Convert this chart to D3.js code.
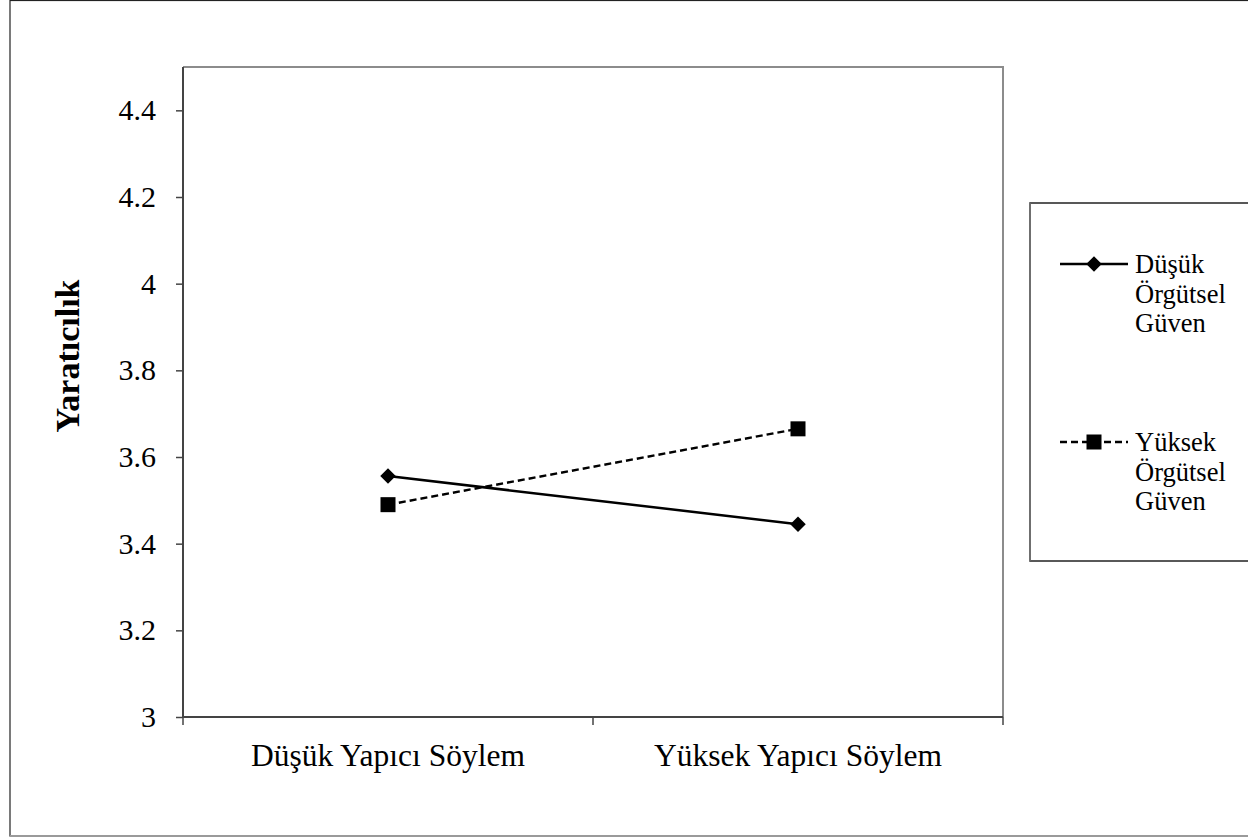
<!DOCTYPE html>
<html>
<head>
<meta charset="utf-8">
<script src="https://cdn.jsdelivr.net/npm/d3@7"></script>
<style>
  html, body { margin: 0; padding: 0; background: #fff; }
  svg { display: block; }
  text { font-family: "Liberation Serif", "Times New Roman", serif; fill: #000; }
</style>
</head>
<body>
<svg id="chart" width="1248" height="838"></svg>
<script>
const categories = ["Düşük Yapıcı Söylem", "Yüksek Yapıcı Söylem"];
const seriesNames = [["Düşük", "Örgütsel", "Güven"], ["Yüksek", "Örgütsel", "Güven"]];
const lowTrust = [3.556, 3.445];
const highTrust = [3.49, 3.665];
const yTicks = [3, 3.2, 3.4, 3.6, 3.8, 4, 4.2, 4.4];
const yLabel = "Yaratıcılık";

const svg = d3.select("#chart");
const plot = { left: 183, top: 67, right: 1003, bottom: 717 };

// outer chart border
svg.append("rect").attr("x", 10).attr("y", 0.5).attr("width", 1260).attr("height", 835.5)
  .attr("fill", "none").attr("stroke", "#222").attr("stroke-width", 1.2);
svg.append("line").attr("x1", 10).attr("x2", 1248).attr("y1", 836).attr("y2", 836)
  .attr("stroke", "#9a9a9a").attr("stroke-width", 2);

const x = d3.scaleBand().domain(categories).range([plot.left, plot.right]).padding(0);
const y = d3.scaleLinear().domain([3, 4.5]).range([plot.bottom, plot.top]);

// plot area top/right border (gray)
svg.append("path")
  .attr("d", `M${plot.left},${plot.top}H${plot.right}V${plot.bottom}`)
  .attr("fill", "none").attr("stroke", "#8c8c8c").attr("stroke-width", 2);

// y axis
const yAxis = svg.append("g").attr("transform", `translate(${plot.left},0)`)
  .call(d3.axisLeft(y).tickValues(yTicks).tickSize(7).tickPadding(20).tickFormat(d => String(d)));
yAxis.select(".domain").attr("stroke", "#444").attr("stroke-width", 2)
  .attr("d", `M0,${plot.bottom}V${plot.top}`);
yAxis.selectAll(".tick line").attr("stroke", "#444").attr("stroke-width", 1.5);
yAxis.selectAll(".tick text").attr("font-size", 30).attr("font-family", "Liberation Serif").attr("fill", "#000");

// x axis
const xAxis = svg.append("g").attr("transform", `translate(0,${plot.bottom})`)
  .call(d3.axisBottom(x).tickSize(0).tickPadding(27));
xAxis.select(".domain").attr("stroke", "#444").attr("stroke-width", 2)
  .attr("d", `M${plot.left},0H${plot.right}`);
xAxis.selectAll(".tick text").attr("font-size", 31.5).attr("font-family", "Liberation Serif").attr("fill", "#000");
// boundary tick marks
const bounds = [plot.left, x(categories[1]), plot.right];
xAxis.selectAll(".btick").data(bounds).enter().append("line")
  .attr("x1", d => d).attr("x2", d => d).attr("y1", 0).attr("y2", 8)
  .attr("stroke", "#444").attr("stroke-width", 1.5);

// y label
svg.append("text")
  .attr("transform", `translate(79,${(plot.top + plot.bottom) / 2 - 36}) rotate(-90)`)
  .attr("text-anchor", "middle")
  .attr("font-size", 34).attr("font-weight", "bold")
  .text(yLabel);

const cx = d => x(d) + x.bandwidth() / 2;
const line = d3.line().x(d => cx(d.c)).y(d => y(d.v));

const lowData = categories.map((c, i) => ({ c, v: lowTrust[i] }));
const highData = categories.map((c, i) => ({ c, v: highTrust[i] }));

svg.append("path").datum(lowData).attr("d", line)
  .attr("fill", "none").attr("stroke", "#000").attr("stroke-width", 2.5);
svg.append("path").datum(highData).attr("d", line)
  .attr("fill", "none").attr("stroke", "#000").attr("stroke-width", 2.5)
  .attr("stroke-dasharray", "7,4");

function drawDiamond(g, px, py) {
  g.append("rect").attr("x", px - 5.5).attr("y", py - 5.5).attr("width", 11).attr("height", 11)
    .attr("transform", `rotate(45,${px},${py})`).attr("fill", "#000");
}
function drawSquare(g, px, py) {
  g.append("rect").attr("x", px - 7.5).attr("y", py - 7.5).attr("width", 15).attr("height", 15)
    .attr("fill", "#000");
}
lowData.forEach(d => drawDiamond(svg, cx(d.c), y(d.v)));
highData.forEach(d => drawSquare(svg, cx(d.c), y(d.v)));

// legend
svg.append("rect").attr("x", 1030).attr("y", 203).attr("width", 240).attr("height", 358)
  .attr("fill", "#fff").attr("stroke", "#222").attr("stroke-width", 1.5);
svg.append("line").attr("x1", 1030).attr("x2", 1030).attr("y1", 203).attr("y2", 561)
  .attr("stroke", "#777").attr("stroke-width", 1.5);

const legendRows = [
  { y: 264, dash: null, mark: drawDiamond, names: seriesNames[0] },
  { y: 442, dash: "7,4", mark: drawSquare, names: seriesNames[1] }
];
legendRows.forEach(r => {
  const l = svg.append("line").attr("x1", 1060).attr("x2", 1128).attr("y1", r.y).attr("y2", r.y)
    .attr("stroke", "#000").attr("stroke-width", 2.5);
  if (r.dash) l.attr("stroke-dasharray", r.dash);
  r.mark(svg, 1094, r.y);
  const t = svg.append("text").attr("x", 1135).attr("y", r.y + 9).attr("font-size", 26.5);
  r.names.forEach((n, i) => {
    t.append("tspan").attr("x", 1135).attr("dy", i === 0 ? 0 : 29.5).text(n);
  });
});
</script>
</body>
</html>
